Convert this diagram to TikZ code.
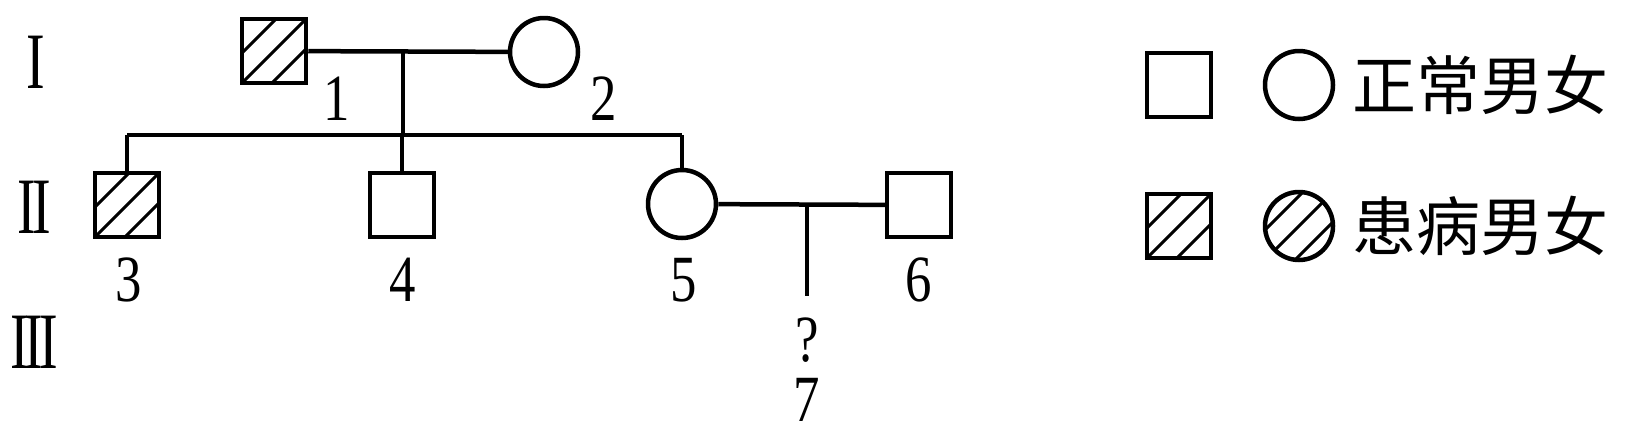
\documentclass[tikz,border=0pt]{standalone}
\usepackage{fontspec}
\setmainfont{Liberation Serif}[FakeStretch=0.8]
\newfontfamily\romfont{Liberation Serif}[FakeStretch=0.7]
\newfontfamily\cjkfont{Noto Sans CJK SC}

\begin{document}
\begin{tikzpicture}[x=1pt, y=-1pt,
    male/.style={draw, rectangle, line width=4.5pt, minimum size=64pt, inner sep=0pt},
    female/.style={draw, circle, line width=4.5pt, minimum size=68pt, inner sep=0pt},
    ill/.style={path picture={
        \foreach \c in {-30,0,30}
            \draw[line width=3pt] ([xshift=\c pt]path picture bounding box.center) ++(-50pt,-50pt) -- ++(100pt,100pt);}},
    link/.style={line width=4.5pt},
    num/.style={font=\fontsize{66}{66}\selectfont, inner sep=0pt},
    gen/.style={font=\romfont\fontsize{80}{80}\selectfont, inner sep=0pt},
    legend/.style={font=\cjkfont\fontsize{64}{64}\selectfont, inner sep=0pt, anchor=west}
]
\useasboundingbox (0,0) rectangle (1627,437);

% Generations
\node[gen] (g1) at (36,62) {I};
\node[gen] (g2) at (34,207) {I\kern-0.05em I};
\node[gen] (g3) at (34,342) {I\kern-0.05em I\kern-0.05em I};

% Generation I
\node[male, ill] (I1) at (274,51) {};
\node[female] (I2) at (544,52) {};
\node[num] (n1) at (337,99) {1};
\node[num] (n2) at (604,99) {2};

% Generation II
\node[male, ill] (II3) at (127,205) {};
\node[male] (II4) at (402,205) {};
\node[female] (II5) at (682,204) {};
\node[male] (II6) at (919,205) {};
\node[num] (n3) at (129,280) {3};
\node[num] (n4) at (403,280) {4};
\node[num] (n5) at (684,280) {5};
\node[num] (n6) at (919,280) {6};

% Generation III
\node[num] (q7) at (807,340) {?};
\node[num] (n7) at (807,400) {7};

% Lines
\coordinate (m1) at (403,51);
\coordinate (s1) at (403,135);
\draw[link] (I1) -- (I2);
\draw[link] (m1) -- (s1);
\draw[link] (II3 |- s1) -- (II5 |- s1);
\draw[link] (II3 |- s1) -- (II3);
\draw[link] (II4 |- s1) -- (II4);
\draw[link] (II5 |- s1) -- (II5);

\coordinate (m2) at (807,204);
\coordinate (c7) at (807,296);
\draw[link] (II5) -- (II6);
\draw[link] (m2) -- (c7);

% Legend
\node[male] (Lm) at (1179,85) {};
\node[female] (Lf) at (1299,85) {};
\node[legend] (Lt1) at (1352,85) {正常男女};
\node[male, ill] (Lma) at (1179,226) {};
\node[female, ill] (Lfa) at (1299,226) {};
\node[legend] (Lt2) at (1352,226) {患病男女};

\end{tikzpicture}
\end{document}
